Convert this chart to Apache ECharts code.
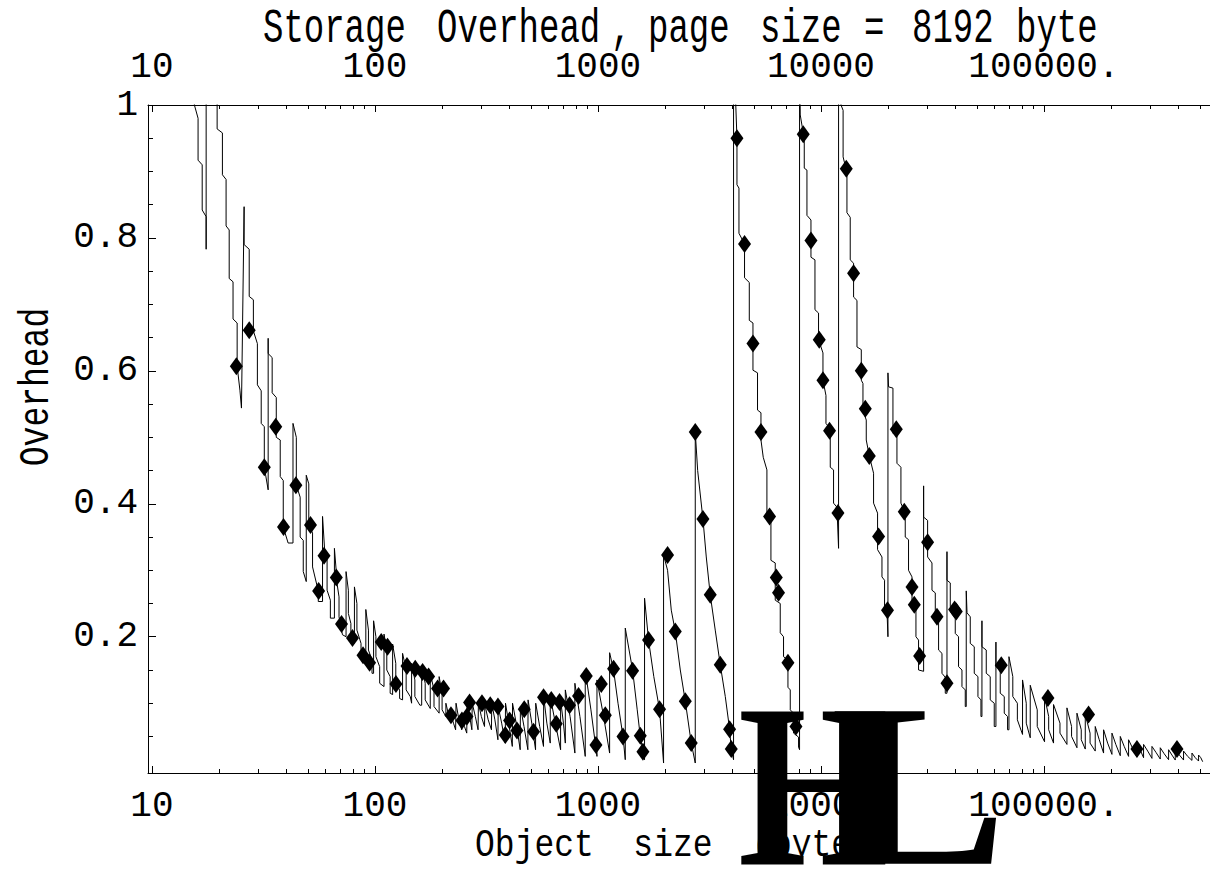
<!DOCTYPE html>
<html><head><meta charset="utf-8">
<script src="https://cdn.jsdelivr.net/npm/echarts@6/dist/echarts.min.js"></script>
<style>html,body{margin:0;padding:0;background:#fff}#c{width:1210px;height:869px}</style>
</head><body><div id="c"></div>
<script>
// Storage overhead curve (object size in bytes, overhead fraction)
const lineSize = [
15.0,15.5,16.1,16.1,16.8,16.8,17.5,17.5,17.5,
19.3,19.6,19.6,20.7,20.7,21.5,21.5,22.2,22.2,23.1,23.1,24.1,24.1,24.8,25.2,
25.9,25.9,27.3,27.3,28.5,28.5,29.7,29.7,30.9,30.9,31.9,31.9,33.2,
33.2,33.2,34.6,34.6,36.1,36.1,37.6,37.6,38.8,38.8,40.8,42.9,
42.9,44.4,44.4,46.2,46.2,47.7,47.7,49.2,
49.2,50.5,50.5,52.5,52.5,55.7,55.7,58.2,
58.2,59.5,61.0,61.0,63.1,63.1,65.8,
65.8,67.0,67.0,69.0,69.0,71.5,74.2,
74.2,76.0,76.0,78.0,78.0,80.9,
80.9,83.0,83.0,86.6,86.6,91.0,
91.0,93.5,93.5,97.0,97.0,98.6,
98.6,101,101,105,105,109.8,
109.8,113,113,117,117,120,
120,124,124,129,129,133,
133,138,138,144,146,
146,151,151,159,162,
162,168,168,177,
177,184,184,194,
194,200,200,208,
208,213,218,
218,225,230,231,238,245,246,252,258,259,266,272,273,282,290,291,300,310,311,322,333,334,345,356,357,370,384,385,398,413,414,430,448,449,466,485,486,505,525,526,548,570,571,590,611,
611,640,680,680,700,714,714,750,788,788,830,877,877,930,990,990,1060,1128,
1128,1175,1230,1295,1326,
1326,1430,1500,1548,1618,
1618,1686,1780,1889,1969,
1969,2052,2132,2222,2340,2464,2620,2731,
2731,2800,2957,3060,3188,3357,3535,3724,3893,3961,4056,
4056,4150,4201,4201,4289,4289,4543,4543,4771,4771,4956,4956,5195,5195,5382,5382,5511,5724,5724,5966,5966,6238,6238,6568,6568,6796,6796,7112,7112,7284,7284,7536,7536,7935,7935,8017,
8017,8075,8329,8416,8416,8654,8654,9020,9020,9400,9400,9754,9754,10209,10209,10530,10530,10818,11008,11008,11389,11389,11794,11995,
11995,12300,12570,12570,13078,13078,13530,13530,14006,14006,14505,14505,15167,15167,15430,15430,15965,15965,16475,17216,17216,17943,17943,18775,18775,19286,19286,19770,19973,
19973,20098,21030,21030,21918,21918,22838,22838,23878,23878,24705,24705,25604,25604,26669,26669,27397,27397,28867,
28867,28867,30082,30082,31470,31470,32560,32560,33690,33690,34890,34890,36100,36100,36741,
36741,36741,38010,38010,40020,40020,41400,41400,42890,42890,44370,44370,44826,
44826,45190,46720,46720,48690,48690,50580,50580,52170,52170,52718,
52718,52718,55112,55112,57420,57420,59850,59850,60908,
60908,60908,63680,63680,66370,66370,68680,68680,69668,
69668,72500,72500,76000,76000,80168,
80168,83300,83300,86802,
86802,93300,93300,100625,
100625,105000,105000,110400,
110400,118000,118000,126800,
126800,133000,133000,140600,
140600,147000,147000,153200,
153200,161000,161000,169800,
169800,177000,185100,
185100,193000,201800,
201800,210000,219900,
219900,229000,239600,
239600,250000,261200,
261200,270000,279700,
279700,292000,305000,
305000,318000,332300,
332300,346000,362200,
362200,375000,388000,
388000,405000,422700,
422700,441000,461000,
461000,477000,493600,
493600,505000,515000
];
const lineOverhead = [
1.10,1.00,0.980,0.917,0.910,0.842,0.832,0.783,1.10,
1.10,1.00,0.964,0.958,0.895,0.888,0.818,0.812,0.739,0.734,0.678,0.672,0.607,0.571,0.544,
0.847,0.790,0.783,0.712,0.707,0.660,0.641,0.579,0.570,0.521,0.516,0.455,0.421,
0.649,0.626,0.620,0.567,0.560,0.500,0.496,0.441,0.435,0.365,0.341,0.341,
0.521,0.500,0.428,0.410,0.350,0.345,0.298,0.283,
0.443,0.430,0.368,0.356,0.305,0.269,0.253,0.253,
0.381,0.330,0.322,0.270,0.255,0.228,0.228,
0.333,0.300,0.289,0.260,0.230,0.203,0.200,
0.298,0.270,0.235,0.220,0.190,0.190,
0.275,0.250,0.210,0.190,0.170,0.168,
0.241,0.210,0.180,0.165,0.145,0.145,
0.224,0.200,0.170,0.155,0.130,0.125,
0.204,0.180,0.150,0.140,0.115,0.113,
0.189,0.160,0.130,0.120,0.107,0.105,
0.175,0.150,0.120,0.110,0.100,
0.160,0.135,0.110,0.097,0.097,
0.155,0.130,0.105,0.092,
0.145,0.120,0.095,0.085,
0.140,0.115,0.090,0.080,
0.100,0.085,0.075,
0.085,0.070,0.060,0.100,0.075,0.060,0.080,0.065,0.055,0.098,0.080,0.060,0.100,0.080,0.060,0.100,0.080,0.065,0.098,0.075,0.060,0.100,0.075,0.045,0.095,0.070,0.040,0.100,0.070,0.035,0.100,0.070,0.030,0.095,0.065,0.030,0.105,0.070,0.030,0.100,0.065,0.035,0.110,0.070,0.040,
0.110,0.075,0.030,0.105,0.070,0.040,0.120,0.080,0.025,0.130,0.080,0.020,0.150,0.090,0.020,0.135,0.080,0.025,
0.176,0.150,0.100,0.050,0.015,
0.213,0.150,0.090,0.050,0.015,
0.258,0.195,0.140,0.090,0.010,
0.323,0.300,0.240,0.208,0.150,0.103,0.040,0.010,
0.508,0.450,0.377,0.320,0.263,0.210,0.158,0.110,0.061,0.031,0.015,
1.08,1.00,0.950,0.880,0.875,0.807,0.791,0.740,0.733,0.676,0.672,0.601,0.597,0.541,0.537,0.496,0.470,0.451,0.386,0.380,0.315,0.311,0.255,0.250,0.206,0.200,0.170,0.165,0.124,0.120,0.090,0.085,0.055,0.049,0.034,0.030,
1.08,0.985,0.958,0.950,0.905,0.902,0.834,0.827,0.771,0.767,0.692,0.687,0.647,0.627,0.586,0.563,0.521,0.516,0.511,0.455,0.451,0.401,0.395,0.333,
1.08,1.00,0.992,0.922,0.898,0.838,0.831,0.767,0.762,0.711,0.706,0.636,0.632,0.586,0.581,0.541,0.526,0.496,0.472,0.446,0.401,0.386,0.331,0.320,0.290,0.285,0.245,0.240,0.200,
0.597,0.576,0.574,0.506,0.506,0.461,0.455,0.401,0.386,0.350,0.346,0.300,0.290,0.255,0.245,0.200,0.195,0.150,0.148,
0.427,0.380,0.375,0.320,0.311,0.270,0.266,0.225,0.221,0.180,0.175,0.145,0.139,0.115,0.115,
0.328,0.285,0.281,0.245,0.240,0.205,0.200,0.155,0.150,0.125,0.120,0.095,0.095,
0.269,0.236,0.230,0.190,0.185,0.145,0.140,0.110,0.105,0.080,0.080,
0.224,0.185,0.180,0.145,0.140,0.105,0.100,0.065,0.065,
0.192,0.155,0.150,0.115,0.110,0.085,0.080,0.060,0.060,
0.170,0.140,0.110,0.100,0.075,0.053,
0.135,0.100,0.070,0.048,
0.127,0.090,0.065,0.042,
0.110,0.080,0.060,0.040,
0.098,0.070,0.055,0.038,
0.093,0.065,0.050,0.033,
0.085,0.060,0.045,0.031,
0.083,0.055,0.040,0.028,
0.065,0.045,0.025,
0.060,0.040,0.023,
0.055,0.038,0.021,
0.050,0.035,0.020,
0.045,0.032,0.019,
0.040,0.030,0.018,
0.038,0.028,0.017,
0.035,0.026,0.016,
0.033,0.024,0.015,
0.030,0.022,0.0145,
0.030,0.022,0.0145,
0.028,0.020,0.014,
0.025,0.018,0.013,
0.022,0.018,0.012
];
// Diamond-marked sample points
const markSize = [23.9,27.3,31.9,35.9,38.9,44.2,51.4,55.9,59.1,67.1,70.8,79.3,88.4,94.6,106.7,113.9,124.2,139.2,151.6,163.5,174.0,190.9,203.0,219.2,245.5,258.6,265.6,301.9,328.9,356.1,384.1,401.5,433.4,467.2,514.2,570.2,617.6,650.2,672.7,745.9,818.4,886.4,979.5,1035,1079,1175,1295,1430,1548,1591,1686,1889,2052,2222,2464,2620,2731,2957,3188,3535,3893,3961,4201,4543,4956,5382,5883,6305,6453,7112,7725,8329,9020,9826,10209,10929,11920,12988,14006,15167,15808,16475,18135,19880,21768,23640,25604,26218,27700,30082,33140,36741,39738,40440,64360,104200,158500,261200,394900];
const markOverhead = [0.607,0.661,0.455,0.516,0.365,0.428,0.368,0.269,0.322,0.289,0.219,0.198,0.172,0.161,0.192,0.185,0.129,0.156,0.152,0.147,0.140,0.122,0.122,0.082,0.074,0.080,0.101,0.100,0.097,0.095,0.052,0.074,0.059,0.091,0.057,0.109,0.105,0.069,0.102,0.097,0.111,0.141,0.037,0.129,0.082,0.152,0.050,0.149,0.051,0.027,0.195,0.091,0.323,0.208,0.103,0.040,0.508,0.377,0.263,0.158,0.061,0.031,0.950,0.791,0.641,0.508,0.381,0.289,0.266,0.161,0.065,0.956,0.796,0.647,0.586,0.510,0.386,0.904,0.747,0.600,0.543,0.472,0.351,0.240,0.512,0.388,0.275,0.248,0.171,0.342,0.230,0.130,0.241,0.238,0.157,0.108,0.083,0.031,0.031];

const xTickValues = [10,100,1000,10000,100000];
const xTickLabels = ['10','100','1000','10000','100000.'];
const xMinorValues = [20,30,40,50,60,70,80,90,200,300,400,500,600,700,800,900,2000,3000,4000,5000,6000,7000,8000,9000,20000,30000,40000,50000,60000,70000,80000,90000,200000,300000,400000,500000];
const yTickValues = [0.2,0.4,0.6,0.8,1];
const yTickLabels = ['0.2','0.4','0.6','0.8','1'];
const yMinorValues = [0.05,0.1,0.15,0.25,0.3,0.35,0.45,0.5,0.55,0.65,0.7,0.75,0.85,0.9,0.95];

const FONT = '"Liberation Mono", "Courier New", monospace';
function fmtX(v){
  for (let i=0;i<xTickValues.length;i++){ if (Math.abs(Math.log10(v)-Math.log10(xTickValues[i]))<1e-6) return xTickLabels[i]; }
  return '';
}
function fmtY(v){
  for (let i=0;i<yTickValues.length;i++){ if (Math.abs(v-yTickValues[i])<1e-6) return yTickLabels[i]; }
  return '';
}
const XMIN = 9.6, XMAX = 555400;
function xMajor(pos, margin){
  return {type:'log', logBase:10, gridIndex:0, position:pos, min:XMIN, max:XMAX,
    axisLine:{show:true, onZero:false, lineStyle:{color:'#000', width:1}},
    axisTick:{show:true, inside:true, length:7, customValues:xTickValues, lineStyle:{color:'#000', width:1}},
    axisLabel:{show:true, customValues:xTickValues, formatter:fmtX, margin:margin, fontFamily:FONT, fontSize:36, color:'#000'},
    splitLine:{show:false}, minorTick:{show:false}};
}
function xMinor(pos){
  return {type:'log', logBase:10, gridIndex:0, position:pos, min:XMIN, max:XMAX,
    axisLine:{show:false, onZero:false},
    axisTick:{show:true, inside:true, length:4, customValues:xMinorValues, lineStyle:{color:'#000', width:1}},
    axisLabel:{show:false}, splitLine:{show:false}};
}
const chart = echarts.init(document.getElementById('c'), null, {renderer:'svg', width:1210, height:869});
const T = (text, x, y, size, extra) => Object.assign({type:'text', x:x, y:y, z:50,
  style:{text:text, fontFamily:FONT, fontSize:size, lineHeight:Math.round(size*0.9), fill:'#000', align:'left', verticalAlign:'middle'}}, extra||{});
const SERIF = '"Liberation Serif", "Times New Roman", serif';
const K = 233 / 120;
chart.setOption({
  animation:false,
  backgroundColor:'#fff',
  grid:{left:148, top:105, right:0, height:668, containLabel:false},
  xAxis:[xMajor('bottom', 15), xMinor('bottom'), xMajor('top', 20), xMinor('top')],
  yAxis:[
    {type:'value', position:'left', min:-0.005, max:1,
     axisLine:{show:true, lineStyle:{color:'#000', width:1}},
     axisTick:{show:true, inside:true, length:8, customValues:yTickValues, lineStyle:{color:'#000'}},
     axisLabel:{show:true, customValues:yTickValues, formatter:fmtY, margin:10, fontFamily:FONT, fontSize:36, color:'#000'},
     splitLine:{show:false}},
    {type:'value', position:'left', min:-0.005, max:1,
     axisLine:{show:false},
     axisTick:{show:true, inside:true, length:5, customValues:yMinorValues, lineStyle:{color:'#000'}},
     axisLabel:{show:false}, splitLine:{show:false}}
  ],
  series:[
    {type:'line', xAxisIndex:0, yAxisIndex:0, data:lineSize.map((s,i)=>[s, lineOverhead[i]]),
     showSymbol:false, symbol:'none', clip:true, silent:true, z:2,
     lineStyle:{color:'#000', width:1}},
    {type:'scatter', xAxisIndex:0, yAxisIndex:0, data:markSize.map((s,i)=>[s, markOverhead[i]]),
     symbol:'diamond', symbolSize:[13,18], itemStyle:{color:'#000', opacity:1}, z:3, silent:true}
  ],
  graphic:[
    T('Storage', 263, 29, 34, {scaleY:1.4}),
    T('Overhead', 437, 29, 34, {scaleY:1.4}),
    T(',', 611, 29, 34, {scaleY:1.4}),
    T('page', 648, 29, 34, {scaleY:1.4}),
    T('size', 760, 29, 34, {scaleY:1.4}),
    T('=', 864, 29, 34, {scaleY:1.4}),
    T('8192', 912, 29, 34, {scaleY:1.4}),
    T('byte', 1016, 29, 34, {scaleY:1.4}),
    T('Object  size  (bytes)', 475, 846, 33, {scaleY:1.2}),
    {type:'text', x:36, y:387, rotation:Math.PI/2, scaleY:1.3, z:50,
     style:{text:'Overhead', fontFamily:FONT, fontSize:33, lineHeight:30, fill:'#000', align:'center', verticalAlign:'middle'}},
    {type:'text', x:738, y:785, scaleX:0.83*K, scaleY:K, z:60,
     style:{text:'H', fontFamily:SERIF, fontWeight:'bold', fontSize:120, lineHeight:80, fill:'#000', align:'left', verticalAlign:'middle'}},
    {type:'text', x:830, y:785, scaleX:1.14*K, scaleY:K, z:60,
     style:{text:'L', fontFamily:SERIF, fontWeight:'bold', fontSize:120, lineHeight:80, fill:'#000', align:'left', verticalAlign:'middle'}}
  ]
});
</script></body></html>
